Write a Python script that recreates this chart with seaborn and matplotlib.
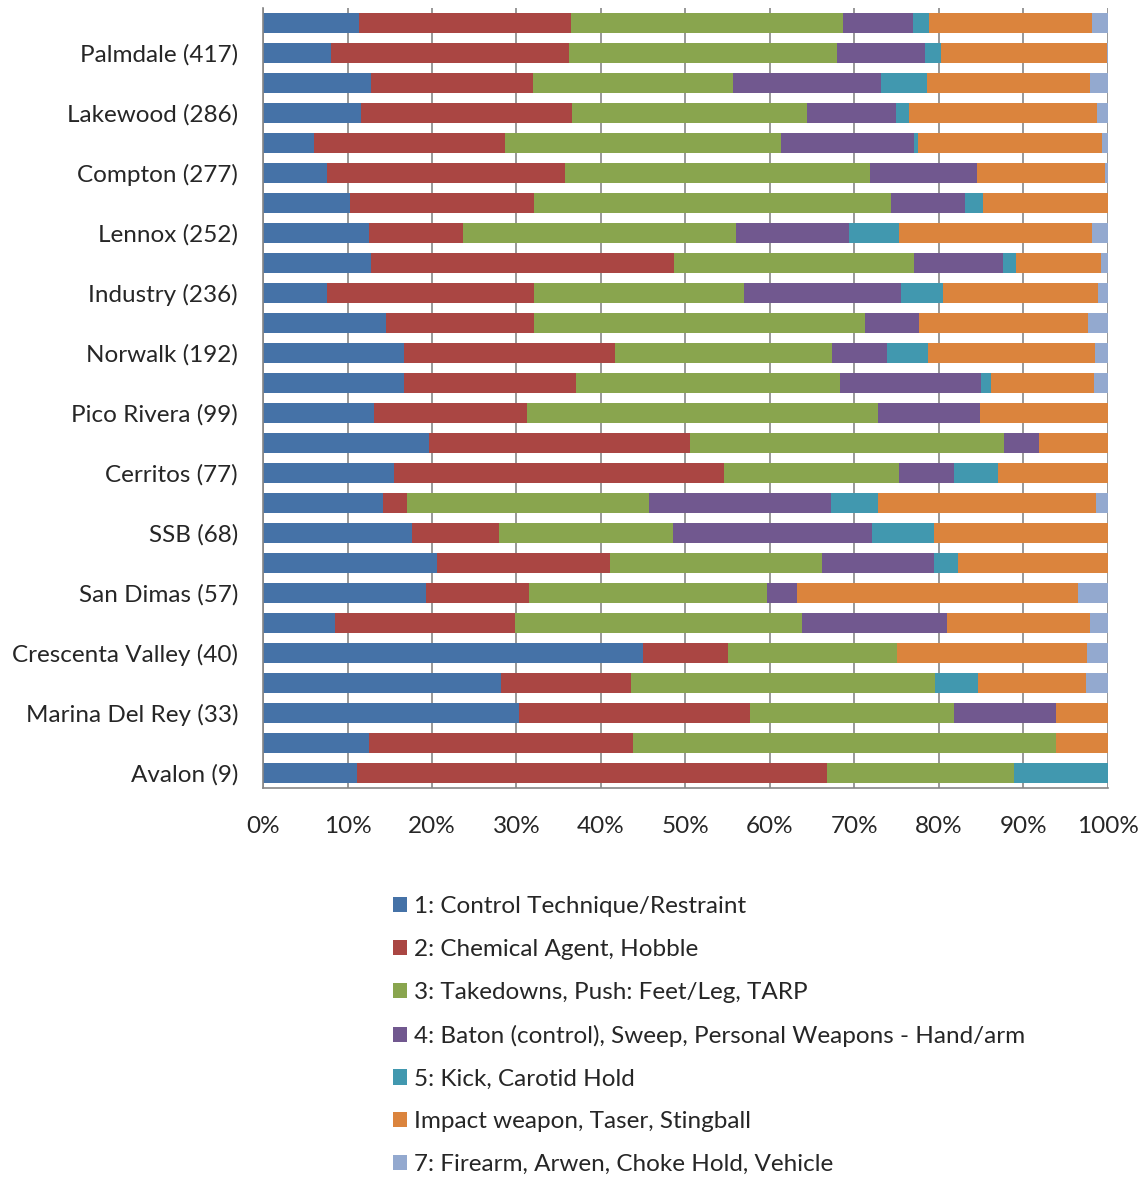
"""
Biểu đồ thanh ngang xếp chồng 100%: loại lực sử dụng theo đồn.
"""

import matplotlib
matplotlib.use("Agg")
import matplotlib.pyplot as plt
import numpy as np
import pandas as pd
import seaborn as sns

# Nhãn trục y (chỉ một nửa số thanh có nhãn hiển thị)
station_labels = [
    "", "Palmdale (417)", "", "Lakewood (286)", "", "Compton (277)",
    "", "Lennox (252)", "", "Industry (236)", "", "Norwalk (192)",
    "", "Pico Rivera (99)", "", "Cerritos (77)", "", "SSB (68)",
    "", "San Dimas (57)", "", "Crescenta Valley (40)", "", "Marina Del Rey (33)",
    "", "Avalon (9)",
]

categories = [
    "1: Control Technique/Restraint",
    "2: Chemical Agent, Hobble",
    "3: Takedowns, Push: Feet/Leg, TARP",
    "4: Baton (control), Sweep, Personal Weapons - Hand/arm",
    "5: Kick, Carotid Hold",
    "Impact weapon, Taser, Stingball",
    "7: Firearm, Arwen, Choke Hold, Vehicle",
]

# Tỷ lệ % mỗi loại, theo thứ tự thanh từ trên xuống
cat1 = [11.4, 8.1, 12.8, 11.6, 6.0, 7.6, 10.3, 12.6, 12.8, 7.6, 14.6, 16.7, 16.7,
        13.1, 19.6, 15.5, 14.2, 17.6, 20.6, 19.3, 8.5, 45.0, 28.2, 30.3, 12.5, 11.1]
cat2 = [25.1, 28.1, 19.1, 25.0, 22.6, 28.2, 21.8, 11.1, 35.9, 24.5, 17.5, 24.9, 20.3,
        18.2, 30.9, 39.0, 2.9, 10.3, 20.5, 12.2, 21.3, 10.0, 15.4, 27.3, 31.3, 55.6]
cat3 = [32.2, 31.7, 23.7, 27.8, 32.7, 36.0, 42.2, 32.3, 28.4, 24.8, 39.1, 25.7, 31.3,
        41.5, 37.2, 20.8, 28.6, 20.6, 25.1, 28.2, 34.0, 20.0, 35.9, 24.2, 50.0, 22.2]
cat4 = [8.2, 10.5, 17.5, 10.5, 15.8, 12.7, 8.8, 13.4, 10.5, 18.6, 6.4, 6.6, 16.7,
        12.1, 4.1, 6.5, 21.5, 23.6, 13.2, 3.5, 17.1, 0.0, 0.0, 12.1, 0.0, 0.0]
cat5 = [1.9, 1.9, 5.5, 1.6, 0.4, 0.0, 2.1, 5.9, 1.5, 5.0, 0.0, 4.8, 1.2,
        0.0, 0.0, 5.2, 5.6, 7.3, 2.9, 0.0, 0.0, 0.0, 5.1, 0.0, 0.0, 11.1]
cat6 = [19.3, 19.6, 19.3, 22.2, 21.8, 15.2, 14.8, 22.8, 10.1, 18.3, 20.0, 19.8, 12.1,
        15.1, 8.2, 13.0, 25.8, 20.6, 17.7, 33.3, 17.0, 22.5, 12.8, 6.1, 6.2, 0.0]
cat7 = [1.9, 0.1, 2.1, 1.3, 0.7, 0.3, 0.0, 1.9, 0.8, 1.2, 2.4, 1.5, 1.7,
        0.0, 0.0, 0.0, 1.4, 0.0, 0.0, 3.5, 2.1, 2.5, 2.6, 0.0, 0.0, 0.0]

colors = ["#4572A7", "#AA4643", "#89A54E", "#71588F", "#4198AF", "#DB843D", "#93A9CF"]

sns.set_theme(style="white")
plt.rcParams["font.family"] = ["Lato", "DejaVu Sans"]
FS = 17.5

values = np.array([cat1, cat2, cat3, cat4, cat5, cat6, cat7])
cumulative = np.cumsum(values, axis=0)
rows = np.arange(len(station_labels))

fig = plt.figure(figsize=(11.46, 11.78), dpi=100)
ax = fig.add_axes([0.2295, 0.3311, 0.7373, 0.6621])

# Vẽ tổng tích lũy từ loại cuối về loại đầu để tạo hiệu ứng xếp chồng
for i in range(len(categories) - 1, -1, -1):
    df = pd.DataFrame({"row": rows, "value": cumulative[i]})
    sns.barplot(
        data=df, x="value", y="row", orient="h", order=list(rows),
        color=colors[i], saturation=1, width=0.65, linewidth=0,
        label=categories[i], ax=ax,
    )

ax.set_xlim(0, 100)
ax.set_xticks(np.arange(0, 101, 10))
ax.set_xticklabels([f"{t}%" for t in range(0, 101, 10)], fontsize=FS)
ax.set_yticks(rows)
ax.set_yticklabels(station_labels, fontsize=FS)
ax.set_xlabel("")
ax.set_ylabel("")
ax.tick_params(axis="x", length=0, pad=20)
ax.tick_params(axis="y", length=0, pad=18)

ax.set_axisbelow(True)
ax.grid(axis="x", color="#868686", linewidth=1.2)
ax.grid(axis="y", visible=False)
for side in ["top", "right"]:
    ax.spines[side].set_visible(False)
for side in ["left", "bottom"]:
    ax.spines[side].set_color("#868686")
    ax.spines[side].set_linewidth(1.2)

handles, labels = ax.get_legend_handles_labels()
if ax.legend_:
    ax.legend_.remove()
fig.legend(
    handles[::-1], labels[::-1],
    loc="upper left", bbox_to_anchor=(393 / 1146, 1 - 896 / 1178),
    frameon=False, fontsize=FS, borderpad=0, borderaxespad=0,
    handlelength=0.58, handleheight=0.58, handletextpad=0.3,
    labelspacing=0.9,
)

plt.savefig("out.png", dpi=100)
plt.close()
